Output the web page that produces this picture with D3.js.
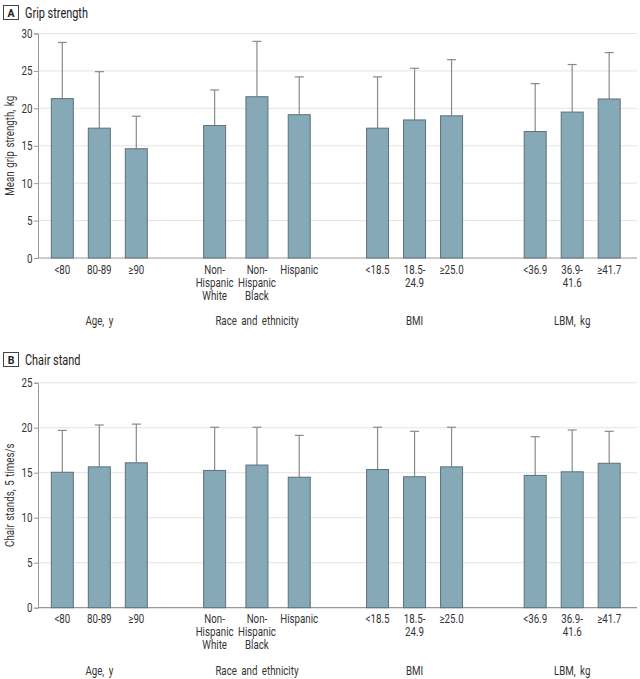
<!DOCTYPE html>
<html><head><meta charset="utf-8">
<script src="https://cdn.jsdelivr.net/npm/d3@7"></script>
<style>body{margin:0;background:#fff;} svg{display:block;font-family:Roboto,sans-serif;}</style>
</head><body>
<svg id="c" width="640" height="679"></svg>
<script>
const groups = ["Age, y", "Race and ethnicity", "BMI", "LBM, kg"];
const categories = [
  ["<80", "80-89", "≥90"],
  ["Non-|Hispanic|White", "Non-|Hispanic|Black", "Hispanic"],
  ["<18.5", "18.5-|24.9", "≥25.0"],
  ["<36.9", "36.9-|41.6", "≥41.7"]
];
const gripMean = [[21.3, 17.35, 14.6], [17.7, 21.55, 19.15], [17.35, 18.45, 19.0], [16.9, 19.5, 21.25]];
const gripUpper = [[28.8, 24.9, 18.95], [22.45, 28.95, 24.2], [24.2, 25.35, 26.5], [23.3, 25.85, 27.45]];
const chairMean = [[15.05, 15.65, 16.1], [15.25, 15.85, 14.5], [15.35, 14.55, 15.65], [14.7, 15.1, 16.05]];
const chairUpper = [[19.7, 20.3, 20.4], [20.05, 20.05, 19.15], [20.05, 19.6, 20.05], [19.0, 19.75, 19.6]];
const gripTicks = [0, 5, 10, 15, 20, 25, 30];
const chairTicks = [0, 5, 10, 15, 20, 25];

const svg = d3.select("#c");
const axisX = 38, rightX = 637;
const barW = 22;
const SX = 0.78;
const FS = 12.5;
const gx = d3.scaleBand().domain(groups).range([20.5, 651]).padding(0);
const innerHalf = {"Age, y": 37, "Race and ethnicity": 42.3, "BMI": 37, "LBM, kg": 37};

function txt(parent, x, y, str, size, anchor, rot) {
  const g = parent.append("g").attr("transform", `translate(${x},${y})${rot ? " rotate(" + rot + ")" : ""} scale(${SX},1)`);
  return g.append("text").attr("text-anchor", anchor || "start").attr("font-size", size).attr("fill", "#333").text(str);
}

function panel(opt) {
  const g = svg.append("g");
  const y = d3.scaleLinear().domain([0, opt.max]).range([opt.y0, opt.y1]);
  g.append("rect").attr("x", 3.5).attr("y", opt.titleY - 11.5).attr("width", 15).attr("height", 14)
    .attr("fill", "#fff").attr("stroke", "#444").attr("stroke-width", 1);
  g.append("text").attr("x", 11).attr("y", opt.titleY).attr("text-anchor", "middle")
    .attr("font-size", 10.5).attr("font-weight", "bold").attr("fill", "#222").text(opt.letter);
  txt(g, 25, opt.titleY + 1, opt.title, 14).attr("fill", "#222");
  g.selectAll(".grid").data(opt.ticks.filter(d => d > 0)).join("line")
    .attr("x1", axisX).attr("x2", rightX).attr("y1", d => y(d)).attr("y2", d => y(d))
    .attr("stroke", "#e4e4e4").attr("stroke-width", 1);
  const ax = g.append("g").attr("transform", `translate(${axisX},0)`)
    .call(d3.axisLeft(y).tickValues(opt.ticks).tickSize(4).tickPadding(3));
  ax.select(".domain").attr("stroke", "#999");
  ax.selectAll(".tick line").attr("stroke", "#999");
  ax.selectAll(".tick text").attr("font-size", FS).attr("fill", "#333").attr("font-family", "Roboto")
    .attr("transform", `scale(${SX},1)`);
  g.append("line").attr("x1", axisX).attr("x2", rightX).attr("y1", y(0)).attr("y2", y(0))
    .attr("stroke", "#999").attr("stroke-width", 1.2);
  txt(g, 14, (opt.y0 + opt.y1) / 2, opt.ytitle, FS, "middle", -90).attr("word-spacing", 1.5);

  groups.forEach((grp, gi) => {
    const c = gx(grp) + gx.bandwidth() / 2;
    const h = innerHalf[grp];
    const ix = d3.scalePoint().domain(categories[gi]).range([c - h, c + h]);
    const data = categories[gi].map((k, i) => ({k, m: opt.mean[gi][i], u: opt.upper[gi][i]}));
    g.selectAll(null).data(data).join("line")
      .attr("x1", d => ix(d.k)).attr("x2", d => ix(d.k)).attr("y1", d => y(d.m)).attr("y2", d => y(d.u))
      .attr("stroke", "#8a8a8a").attr("stroke-width", 1.2);
    g.selectAll(null).data(data).join("line")
      .attr("x1", d => ix(d.k) - 4.5).attr("x2", d => ix(d.k) + 4.5).attr("y1", d => y(d.u)).attr("y2", d => y(d.u))
      .attr("stroke", "#8a8a8a").attr("stroke-width", 1.2);
    g.selectAll(null).data(data).join("rect")
      .attr("x", d => ix(d.k) - barW / 2).attr("width", barW)
      .attr("y", d => y(d.m)).attr("height", d => y(0) - y(d.m))
      .attr("fill", "#86a9b8").attr("stroke", "#5d7079").attr("stroke-width", 1);
    data.forEach(d => {
      d.k.split("|").forEach((ln, li) => {
        txt(g, ix(d.k), opt.y0 + 15.5 + li * 13, ln, FS, "middle");
      });
    });
    txt(g, c, opt.y0 + 67, grp, FS, "middle").attr("word-spacing", 2.5);
  });
}

panel({letter: "A", title: "Grip strength", titleY: 17, max: 30, y0: 258, y1: 33.5, ticks: gripTicks,
  ytitle: "Mean grip strength, kg", mean: gripMean, upper: gripUpper});
panel({letter: "B", title: "Chair stand", titleY: 364, max: 25, y0: 607.7, y1: 382.7, ticks: chairTicks,
  ytitle: "Chair stands, 5 times/s", mean: chairMean, upper: chairUpper});
</script>
</body></html>
